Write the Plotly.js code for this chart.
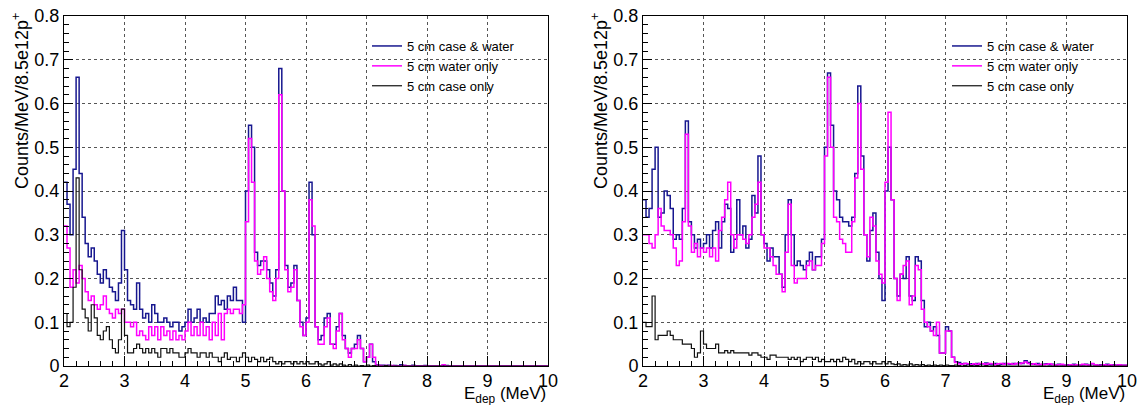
<!DOCTYPE html>
<html>
<head>
<meta charset="utf-8">
<script src="https://cdn.plot.ly/plotly-3.0.1.min.js"></script>
<style>html,body{margin:0;padding:0;background:#fff;}#chart{width:1138px;height:405px;}</style>
</head>
<body>
<div id="chart"></div>
<script>
// Binning (MeV)
const binStart = 2.0;
const binWidth = 0.05;
const seriesNames = ["5 cm case & water", "5 cm water only", "5 cm case only"];

// ---- Left panel ----
const leftCaseWater = [
  0.42,0.37,0.30,0.45,0.66,0.44,0.34,0.28,0.25,0.27,0.24,0.21,0.19,0.22,0.20,0.18,0.17,0.15,0.19,0.31,
  0.22,0.15,0.14,0.13,0.19,0.13,0.11,0.12,0.10,0.14,0.12,0.10,0.10,0.11,0.10,0.09,0.10,0.10,0.08,0.09,
  0.10,0.13,0.10,0.11,0.13,0.10,0.11,0.10,0.12,0.12,0.16,0.14,0.15,0.13,0.16,0.15,0.18,0.15,0.15,0.10,
  0.40,0.55,0.50,0.26,0.23,0.24,0.24,0.22,0.19,0.16,0.22,0.68,0.40,0.23,0.18,0.19,0.23,0.15,0.10,0.07,
  0.11,0.42,0.30,0.09,0.06,0.07,0.11,0.12,0.05,0.05,0.09,0.12,0.07,0.04,0.03,0.04,0.05,0.07,0.04,0.01,
  0.02,0.05,0.01,0.003,0.002,0.002,0.001,0.002,0,0.001,0,0.003,0.001,0,0,0.002,0,0,0,0.001,
  0,0,0,0,0,0.002,0.001,0,0,0,0,0,0,0,0,0,0,0,0,0,
  0,0,0,0,0,0,0,0,0,0,0,0,0,0,0,0,0,0,0,0
];
const leftWaterOnly = [
  0.32,0.27,0.18,0.22,0.19,0.23,0.20,0.17,0.15,0.16,0.14,0.13,0.14,0.16,0.13,0.12,0.11,0.13,0.12,0.13,
  0.10,0.10,0.09,0.10,0.07,0.08,0.07,0.06,0.09,0.07,0.09,0.06,0.09,0.07,0.08,0.06,0.08,0.06,0.07,0.06,
  0.08,0.10,0.07,0.09,0.07,0.10,0.07,0.09,0.06,0.10,0.07,0.12,0.06,0.12,0.13,0.12,0.13,0.13,0.12,0.14,
  0.33,0.52,0.42,0.24,0.21,0.22,0.25,0.20,0.17,0.15,0.20,0.62,0.40,0.22,0.17,0.18,0.22,0.15,0.09,0.07,
  0.10,0.38,0.32,0.09,0.05,0.05,0.09,0.11,0.05,0.04,0.08,0.12,0.06,0.04,0.02,0.04,0.04,0.06,0.04,0.01,
  0.02,0.05,0.02,0.002,0.001,0,0.001,0,0.001,0,0,0,0.001,0,0,0,0,0,0,0,
  0,0,0,0,0,0.003,0,0,0,0,0,0,0,0,0,0,0,0,0,0,
  0,0,0,0,0,0,0,0,0,0,0,0,0,0,0,0,0,0,0,0
];
const leftCaseOnly = [
  0.12,0.09,0.10,0.18,0.43,0.22,0.13,0.11,0.08,0.14,0.11,0.07,0.06,0.08,0.09,0.06,0.04,0.03,0.06,0.13,
  0.07,0.03,0.03,0.04,0.05,0.04,0.03,0.04,0.03,0.04,0.03,0.02,0.04,0.04,0.03,0.04,0.03,0.03,0.02,0.02,
  0.03,0.04,0.03,0.03,0.02,0.03,0.03,0.02,0.03,0.02,0.02,0.01,0.02,0.03,0.015,0.02,0.02,0.01,0.02,0.03,
  0.02,0.01,0.02,0.015,0.01,0.02,0.01,0.015,0.02,0.01,0.005,0.01,0.005,0.01,0.01,0.005,0.01,0.005,0.01,0.005,
  0.01,0.005,0.005,0.01,0.005,0.002,0.005,0.01,0.002,0.005,0.002,0.005,0.002,0,0.003,0,0.002,0,0.001,0,
  0.002,0,0.001,0,0,0,0.001,0,0,0,0,0,0,0,0,0,0,0,0,0,
  0,0,0,0,0,0,0,0,0,0,0,0,0,0,0,0,0,0,0,0,
  0,0,0,0,0,0,0,0,0,0,0,0,0,0,0,0,0,0,0,0
];

// ---- Right panel ----
const rightCaseWater = [
  0.38,0.34,0.36,0.45,0.50,0.34,0.35,0.40,0.39,0.36,0.29,0.30,0.29,0.36,0.56,0.33,0.30,0.27,0.29,0.27,
  0.28,0.30,0.27,0.31,0.33,0.27,0.33,0.37,0.36,0.26,0.29,0.38,0.30,0.32,0.27,0.29,0.39,0.35,0.48,0.30,
  0.28,0.24,0.27,0.25,0.25,0.21,0.18,0.30,0.38,0.30,0.23,0.24,0.23,0.22,0.24,0.26,0.22,0.25,0.25,0.29,
  0.50,0.67,0.55,0.40,0.38,0.34,0.33,0.33,0.32,0.34,0.44,0.64,0.48,0.30,0.24,0.31,0.35,0.26,0.20,0.15,
  0.40,0.50,0.38,0.20,0.16,0.21,0.20,0.25,0.16,0.15,0.25,0.24,0.15,0.09,0.10,0.08,0.09,0.07,0.03,0.03,
  0.09,0.08,0.02,0.01,0.008,0.005,0.006,0.004,0.005,0.003,0.006,0.004,0.005,0.007,0.004,0.003,0.006,0.005,0.004,0.006,
  0.005,0.004,0.006,0.005,0.007,0.006,0.012,0.008,0.005,0.004,0.006,0.003,0.004,0.005,0.003,0.004,0.002,0.004,0.003,0.002,
  0.003,0.002,0.004,0.003,0.002,0.003,0.004,0.002,0.005,0.003,0.002,0.003,0.002,0.004,0.002,0.003,0.002,0.003,0.002,0.002
];
const rightWaterOnly = [
  0.30,0.30,0.28,0.27,0.30,0.36,0.32,0.31,0.31,0.30,0.27,0.23,0.24,0.33,0.53,0.32,0.26,0.28,0.25,0.27,
  0.26,0.27,0.25,0.27,0.24,0.31,0.34,0.38,0.42,0.30,0.27,0.30,0.30,0.29,0.28,0.30,0.34,0.37,0.42,0.30,
  0.27,0.27,0.25,0.23,0.21,0.21,0.17,0.26,0.37,0.23,0.19,0.20,0.20,0.20,0.23,0.24,0.22,0.23,0.23,0.28,
  0.48,0.66,0.50,0.34,0.33,0.29,0.28,0.26,0.26,0.33,0.43,0.60,0.45,0.30,0.25,0.34,0.32,0.24,0.21,0.19,
  0.42,0.58,0.38,0.20,0.15,0.21,0.23,0.24,0.14,0.16,0.23,0.22,0.13,0.10,0.09,0.08,0.07,0.10,0.03,0.03,
  0.08,0.08,0.02,0.008,0.005,0.004,0.006,0.005,0.003,0.005,0.004,0.006,0.005,0.004,0.006,0.005,0.003,0.005,0.006,0.004,
  0.006,0.005,0.004,0.006,0.005,0.007,0.009,0.006,0.004,0.005,0.003,0.004,0.003,0.004,0.005,0.003,0.002,0.003,0.004,0.002,
  0.002,0.003,0.002,0.003,0.002,0.004,0.003,0.002,0.006,0.003,0.002,0.002,0.003,0.002,0.003,0.002,0.002,0.003,0.002,0.002
];
const rightCaseOnly = [
  0.10,0.09,0.09,0.16,0.06,0.07,0.07,0.07,0.08,0.07,0.06,0.06,0.06,0.05,0.05,0.05,0.04,0.02,0.03,0.08,
  0.05,0.04,0.04,0.04,0.05,0.03,0.03,0.035,0.03,0.035,0.03,0.03,0.03,0.03,0.03,0.025,0.03,0.03,0.025,0.02,
  0.02,0.015,0.025,0.025,0.02,0.02,0.02,0.02,0.015,0.02,0.015,0.02,0.01,0.015,0.02,0.02,0.015,0.02,0.01,0.015,
  0.01,0.01,0.015,0.01,0.015,0.01,0.02,0.015,0.01,0.015,0.005,0.01,0.005,0.01,0.01,0.005,0.01,0.005,0.005,0.01,
  0.005,0.01,0.005,0.003,0.005,0.002,0.003,0.002,0.005,0.002,0.003,0.002,0.003,0.001,0.002,0.001,0.002,0.001,0.002,0.001,
  0.002,0.001,0.001,0.002,0.001,0,0.001,0,0.001,0,0.001,0,0,0.001,0,0,0,0.001,0,0,
  0,0,0,0,0,0,0,0,0,0,0,0,0,0,0,0,0,0,0,0,
  0,0,0,0,0,0,0,0,0,0,0,0,0,0,0,0,0,0,0,0
];

const xTickVals = [2,3,4,5,6,7,8,9,10];
const yTickVals = [0,0.1,0.2,0.3,0.4,0.5,0.6,0.7,0.8];
const yTickText = ["0","0.1","0.2","0.3","0.4","0.5","0.6","0.7","0.8"];
const yTitleText = "Counts/MeV/8.5e12p<sup>+</sup>";
const xTitleText = "E<sub>dep</sub> (MeV)";

const colors = ["#17178f", "#ff00ff", "#111111"];
const widths = [1.5, 1.5, 1.2];

function stepXY(vals) {
  const xs = [], ys = [];
  for (let i = 0; i < vals.length; i++) {
    xs.push(+(binStart + i * binWidth).toFixed(4));
    ys.push(vals[i]);
  }
  xs.push(+(binStart + vals.length * binWidth).toFixed(4));
  ys.push(vals[vals.length - 1]);
  return {xs, ys};
}

const traces = [];
function addPanel(list, xa, ya, leg) {
  list.forEach((vals, k) => {
    const s = stepXY(vals);
    traces.push({
      x: s.xs, y: s.ys, type: "scatter", mode: "lines",
      line: {shape: "hv", color: colors[k], width: widths[k]},
      name: seriesNames[k], xaxis: xa, yaxis: ya, legend: leg,
      hoverinfo: "skip"
    });
  });
}
addPanel([leftCaseWater, leftWaterOnly, leftCaseOnly], "x", "y", "legend");
addPanel([rightCaseWater, rightWaterOnly, rightCaseOnly], "x2", "y2", "legend2");

const W = 1138, H = 405;
const font = "Liberation Sans, Arial, Helvetica, sans-serif";
const L1 = 64, R1 = 548, L2 = 643, R2 = 1127, T = 16, B = 366;

function xAxis(l, r, anchor) {
  return {
    domain: [l / W, r / W], anchor: anchor, range: [2, 10],
    tickvals: xTickVals, ticks: "inside", ticklen: 10, tickcolor: "#000",
    ticklabelstandoff: -2,
    showline: true, mirror: true, linecolor: "#000", linewidth: 1,
    showgrid: true, gridcolor: "#555", griddash: "dot", gridwidth: 1,
    zeroline: false,
    tickfont: {family: font, size: 18, color: "#000"},
    minor: {dtick: 0.2, ticks: "inside", ticklen: 5, tickcolor: "#000", showgrid: false}
  };
}
function yAxis(anchor) {
  return {
    domain: [(H - B) / H, (H - T) / H], anchor: anchor, range: [0, 0.8],
    tickvals: yTickVals, ticktext: yTickText,
    ticks: "inside", ticklen: 9, tickcolor: "#000",
    showline: true, mirror: true, linecolor: "#000", linewidth: 1,
    showgrid: true, gridcolor: "#555", griddash: "dot", gridwidth: 1,
    zeroline: false,
    tickfont: {family: font, size: 18, color: "#000"},
    minor: {dtick: 0.02, ticks: "inside", ticklen: 5, tickcolor: "#000", showgrid: false}
  };
}

function legendAt(textLeft) {
  return {
    x: (textLeft - 40) / W, y: (H - 31) / H, xanchor: "left", yanchor: "top",
    bgcolor: "rgba(0,0,0,0)", borderwidth: 0,
    font: {family: font, size: 13, color: "#000"},
    tracegroupgap: 0, itemwidth: 30
  };
}

const annotations = [
  {xref: "paper", yref: "paper", x: 21 / W, y: (H - 11) / H, xanchor: "center", yanchor: "top",
   text: yTitleText, textangle: -90, showarrow: false, font: {family: font, size: 18, color: "#000"}},
  {xref: "paper", yref: "paper", x: 600 / W, y: (H - 11) / H, xanchor: "center", yanchor: "top",
   text: yTitleText, textangle: -90, showarrow: false, font: {family: font, size: 18, color: "#000"}},
  {xref: "paper", yref: "paper", x: R1 / W, y: -3 / H, xanchor: "right", yanchor: "bottom",
   text: xTitleText, showarrow: false, font: {family: font, size: 17, color: "#000"}},
  {xref: "paper", yref: "paper", x: R2 / W, y: -3 / H, xanchor: "right", yanchor: "bottom",
   text: xTitleText, showarrow: false, font: {family: font, size: 17, color: "#000"}}
];

const layout = {
  width: W, height: H,
  margin: {l: 0, r: 0, t: 0, b: 0},
  paper_bgcolor: "#fff", plot_bgcolor: "#fff",
  showlegend: true,
  xaxis: xAxis(L1, R1, "y"),
  yaxis: yAxis("x"),
  xaxis2: xAxis(L2, R2, "y2"),
  yaxis2: yAxis("x2"),
  legend: legendAt(407),
  legend2: legendAt(987),
  annotations: annotations
};

Plotly.newPlot("chart", traces, layout, {displayModeBar: false, staticPlot: true});
</script>
</body>
</html>
